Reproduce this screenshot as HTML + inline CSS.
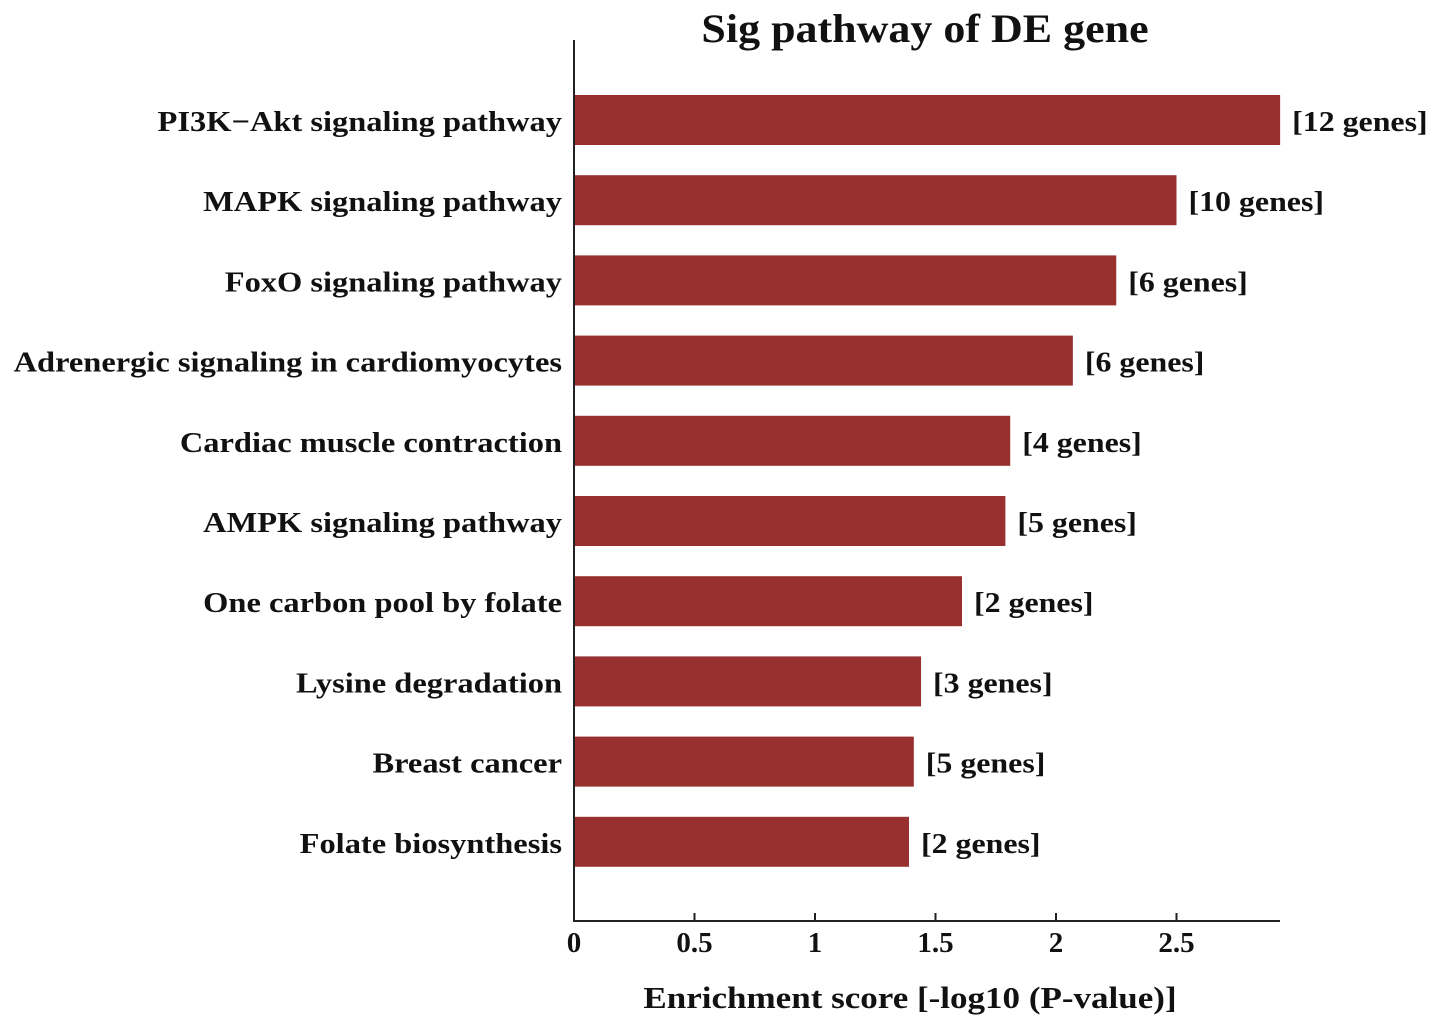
<!DOCTYPE html>
<html><head><meta charset="utf-8"><style>
body{margin:0;background:#fff}
svg text{font-family:"Liberation Serif",serif;font-weight:bold;fill:#111}
</style></head><body>
<svg id="chart" width="1441" height="1029" xmlns="http://www.w3.org/2000/svg">
<g transform="translate(925,42) scale(1.1,1)"><text x="0" y="0" font-size="40" text-anchor="middle">Sig pathway of DE gene</text></g>
<g id="bars"></g>
<line x1="574" y1="40" x2="574" y2="921" stroke="#222" stroke-width="2"/>
<line x1="573" y1="921" x2="1280" y2="921" stroke="#222" stroke-width="2"/>
<g id="ticks"></g>
<g transform="translate(910,1008) scale(1.13,1)"><text x="0" y="0" font-size="31" text-anchor="middle">Enrichment score [-log10 (P-value)]</text></g>
</svg>
<script>
const categories=["PI3K\u2212Akt signaling pathway","MAPK signaling pathway","FoxO signaling pathway","Adrenergic signaling in cardiomyocytes","Cardiac muscle contraction","AMPK signaling pathway","One carbon pool by folate","Lysine degradation","Breast cancer","Folate biosynthesis"];
const scores=[2.93,2.50,2.25,2.07,1.81,1.79,1.61,1.44,1.41,1.39];
const geneCounts=[12,10,6,6,4,5,2,3,5,2];
const tickValues=[0,0.5,1,1.5,2,2.5];
const tickLabels=["0","0.5","1","1.5","2","2.5"];
const NS="http://www.w3.org/2000/svg";
const x=v=>574+v*241;
const y=i=>120+i*80.2;
const bars=document.getElementById('bars');
function mk(tag,attrs,parent){const e=document.createElementNS(NS,tag);for(const k in attrs)e.setAttribute(k,attrs[k]);parent.appendChild(e);return e;}
categories.forEach((c,i)=>{
  const r=mk('rect',{x:x(0),y:y(i)-25,width:x(scores[i])-x(0),height:50,fill:'#97302f'},bars);
  
  
  const lg=mk('g',{transform:'translate(562,'+(y(i)+11)+') scale(1.12,1)'},bars);
  const l=mk('text',{x:0,y:0,'font-size':29,'text-anchor':'end'},lg);
  l.textContent=c;
  
  
  const gg=mk('g',{transform:'translate('+(x(scores[i])+12)+','+(y(i)+11)+') scale(1.1,1)'},bars);
  const g=mk('text',{x:0,y:0,'font-size':29},gg);
  g.textContent='['+geneCounts[i]+' genes]';
  
  
});
const ticks=document.getElementById('ticks');
tickValues.forEach((v,i)=>{
  const t=mk('line',{x1:x(v),x2:x(v),y1:913,y2:921,stroke:'#222','stroke-width':2},ticks);
  
  
  const tl=mk('text',{x:x(v),y:952,'font-size':29,'text-anchor':'middle'},ticks);
  tl.textContent=tickLabels[i];
  
  
});
</script>
</body></html>
